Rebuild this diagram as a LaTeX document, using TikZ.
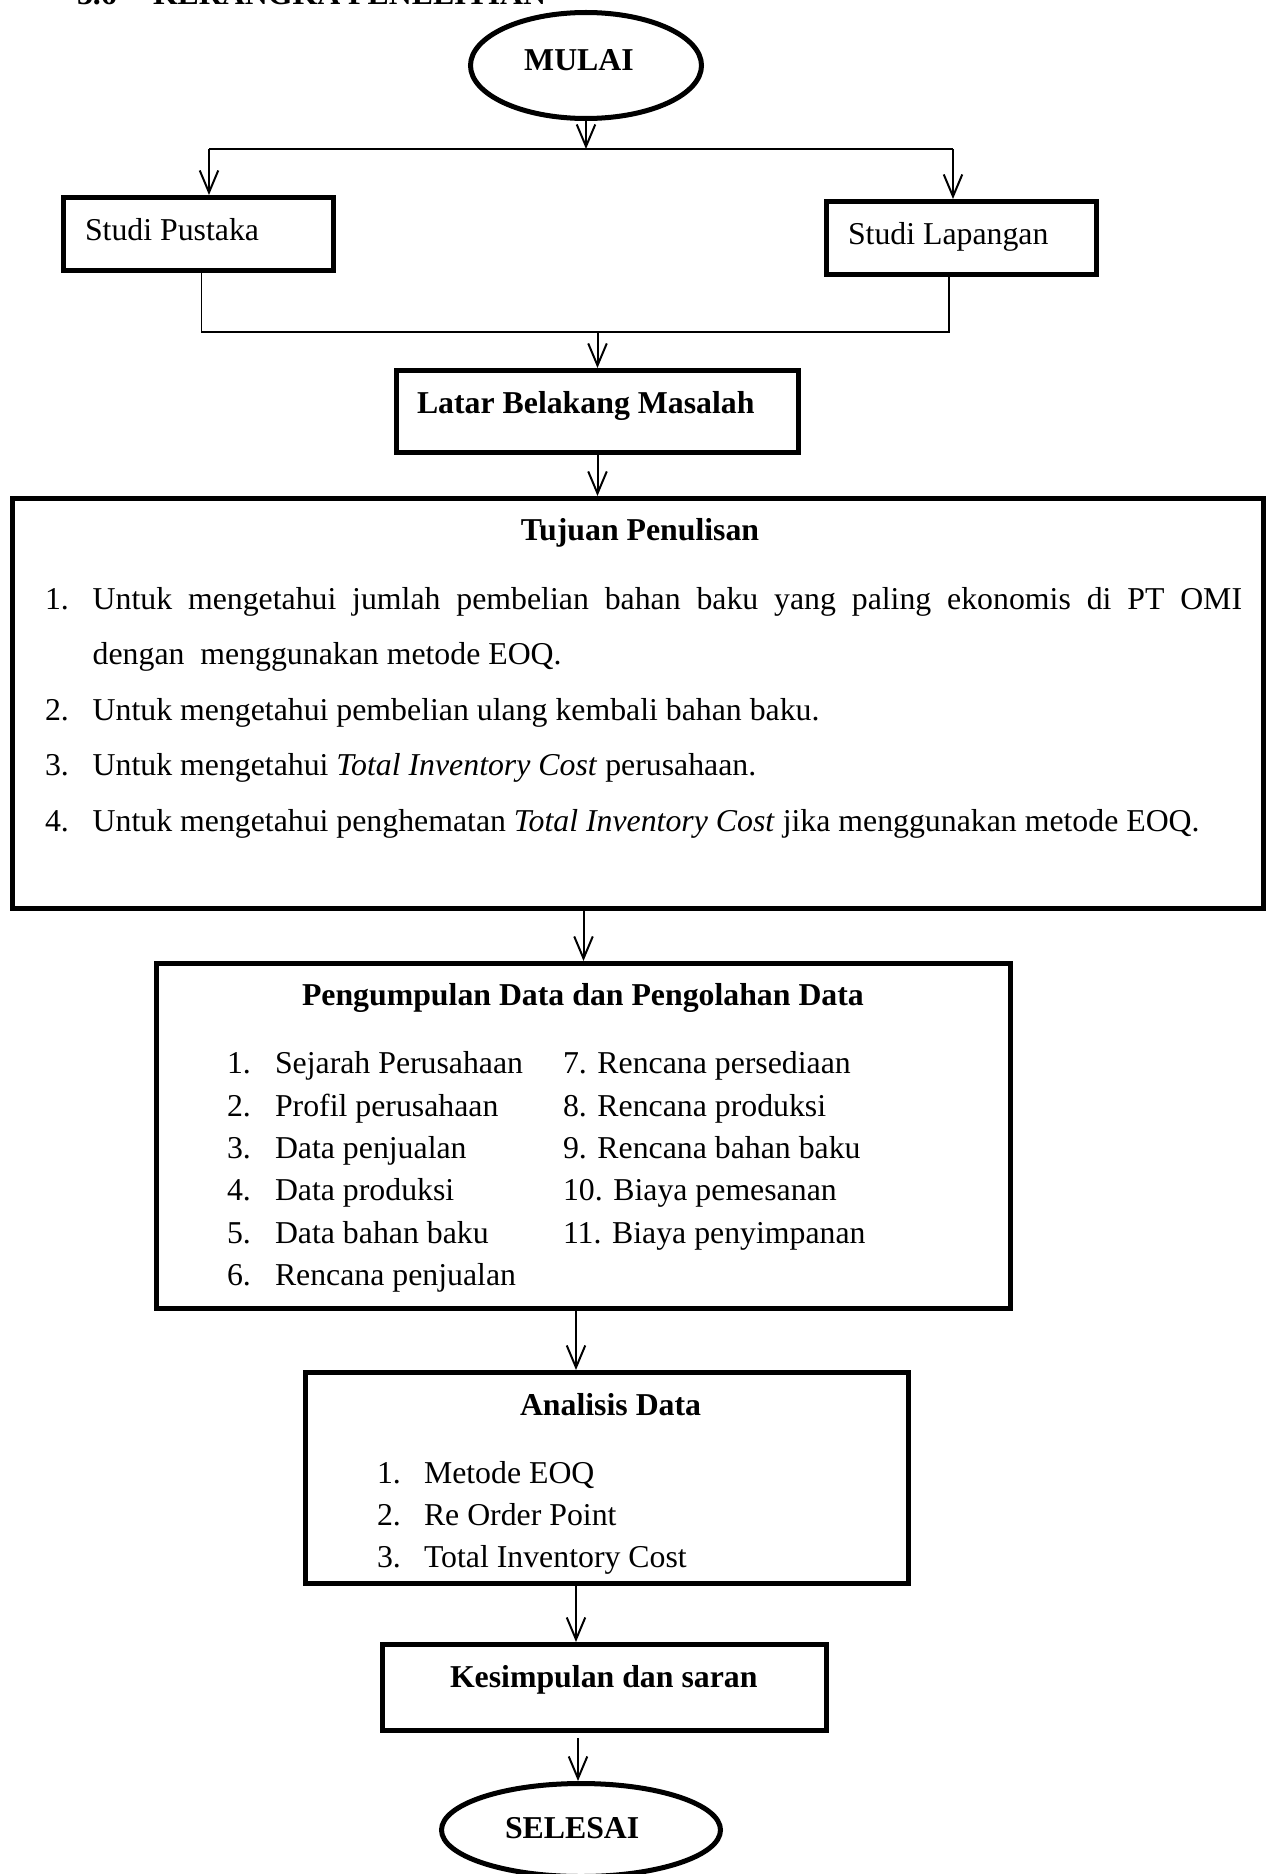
\documentclass[tikz,border=0pt]{standalone}
\usepackage{fontspec}
\setmainfont{Liberation Serif}
\usetikzlibrary{arrows.meta,shapes.geometric}
\begin{document}
\begin{tikzpicture}[x=0.37736pt,y=-0.37736pt,
  wh/.style 2 args={minimum width=#1, minimum height=#2},
  box/.style={draw, line width=1.89pt, rectangle, inner sep=0pt, outer sep=0.95pt},
  oval/.style={draw, line width=1.89pt, ellipse, inner sep=0pt, outer sep=0.95pt},
  txt/.style={inner sep=0pt, outer sep=0pt, anchor=base west, font=\fontsize{12}{14}\selectfont},
  btxt/.style={inner sep=0pt, outer sep=0pt, anchor=base west, font=\fontsize{12}{14}\selectfont\bfseries},
  conn/.style={line width=0.75pt},
  arr/.style={line width=0.75pt, -{Straight Barb[length=8.3pt,width=7pt]}}
]
\useasboundingbox (0,0) rectangle (1269,1874);

% heading (cut off at top of page, as in the reference)
\node[btxt] (h1) at (77,4) {3.6};
\node[btxt] (h2) at (153,4) {KERANGKA PENELITIAN};

% shapes
\node[oval, wh={87.17pt}{40.00pt}] (mulai) at (586,65.5) {};
\node[box, wh={101.89pt}{27.55pt}] (pustaka) at (198.5,234) {};
\node[box, wh={101.89pt}{27.55pt}] (lapangan) at (961.5,238) {};
\node[box, wh={151.70pt}{30.94pt}] (latar) at (597.5,411.5) {};
\node[box, wh={472.08pt}{154.72pt}] (tujuan) at (638,703.5) {};
\node[box, wh={322.27pt}{130.19pt}] (kumpul) at (583.5,1136) {};
\node[box, wh={227.55pt}{79.62pt}] (analisis) at (607,1478) {};
\node[box, wh={167.55pt}{32.45pt}] (simpul) at (604.5,1687.5) {};
\node[oval, wh={105.28pt}{35.09pt}] (selesai) at (581,1830) {};

% texts
\node[btxt, anchor=base] (tmulai) at (579,70) {MULAI};
\node[txt] (tpustaka) at (85,240) {Studi Pustaka};
\node[txt] (tlapangan) at (848,244) {Studi Lapangan};
\node[btxt] (tlatar) at (417,413) {Latar Belakang Masalah};

\node[btxt, anchor=base] (ttujuan) at (640,540) {Tujuan Penulisan};
\node[txt] (tn1) at (45,609) {1.};
\node[txt] (ti1) at (92.7,609) {\makebox[433.7pt][s]{Untuk mengetahui jumlah pembelian bahan baku yang paling ekonomis di PT OMI}};
\node[txt] (ti1b) at (92.7,664) {dengan\ \ menggunakan metode EOQ.};
\node[txt] (tn2) at (45,720) {2.};
\node[txt] (ti2) at (92.7,720) {Untuk mengetahui pembelian ulang kembali bahan baku.};
\node[txt] (tn3) at (45,775) {3.};
\node[txt] (ti3) at (92.7,775) {Untuk mengetahui \textit{Total Inventory Cost} perusahaan.};
\node[txt] (tn4) at (45,831) {4.};
\node[txt] (ti4) at (92.7,831) {Untuk mengetahui penghematan \textit{Total Inventory Cost} jika menggunakan metode EOQ.};

\node[btxt] (tkumpul) at (302,1005) {Pengumpulan Data dan Pengolahan Data};
\node[txt] (kn1) at (227,1073) {1.};
\node[txt] (ki1) at (275,1073) {Sejarah Perusahaan};
\node[txt] (kn2) at (227,1116) {2.};
\node[txt] (ki2) at (275,1116) {Profil perusahaan};
\node[txt] (kn3) at (227,1158) {3.};
\node[txt] (ki3) at (275,1158) {Data penjualan};
\node[txt] (kn4) at (227,1200) {4.};
\node[txt] (ki4) at (275,1200) {Data produksi};
\node[txt] (kn5) at (227,1243) {5.};
\node[txt] (ki5) at (275,1243) {Data bahan baku};
\node[txt] (kn6) at (227,1285) {6.};
\node[txt] (ki6) at (275,1285) {Rencana penjualan};
\node[txt] (ki7) at (563,1073) {7. Rencana persediaan};
\node[txt] (ki8) at (563,1116) {8. Rencana produksi};
\node[txt] (ki9) at (563,1158) {9. Rencana bahan baku};
\node[txt] (ki10) at (563,1200) {10. Biaya pemesanan};
\node[txt] (ki11) at (563,1243) {11. Biaya penyimpanan};

\node[btxt] (tanalisis) at (520,1415) {Analisis Data};
\node[txt] (an1) at (377,1483) {1.};
\node[txt] (ai1) at (424,1483) {Metode EOQ};
\node[txt] (an2) at (377,1525) {2.};
\node[txt] (ai2) at (424,1525) {Re Order Point};
\node[txt] (an3) at (377,1567) {3.};
\node[txt] (ai3) at (424,1567) {Total Inventory Cost};

\node[btxt] (tsimpul) at (450,1687) {Kesimpulan dan saran};
\node[btxt] (tselesai) at (505,1838) {SELESAI};

% connectors
\coordinate (bm) at (587,149);
\coordinate (bl) at (209,149);
\coordinate (br) at (953,149);
\draw[arr] (mulai.south) -- (mulai.south |- bm);
\draw[conn] (bl) -- (br);
\draw[arr] (bl) -- (bl |- pustaka.north);
\draw[arr] (br) -- (br |- lapangan.north);

\coordinate (jl) at (201.5,332);
\coordinate (jr) at (948.5,332);
\draw[conn] (pustaka.south -| jl) -- (jl) -- (jr) -- (lapangan.south -| jr);
\draw[arr] (latar.north |- jl) -- (latar.north);
\draw[arr] (latar.south) -- (latar.south |- tujuan.north);
\draw[arr] (tujuan.south -| kumpul.north) -- (kumpul.north);

\coordinate (c4) at (576,1311);
\draw[arr] (kumpul.south -| c4) -- (analisis.north -| c4);
\draw[arr] (analisis.south -| c4) -- (simpul.north -| c4);
\coordinate (c6) at (578,1738);
\draw[arr] (c6) -- (c6 |- selesai.north);
\end{tikzpicture}
\end{document}
